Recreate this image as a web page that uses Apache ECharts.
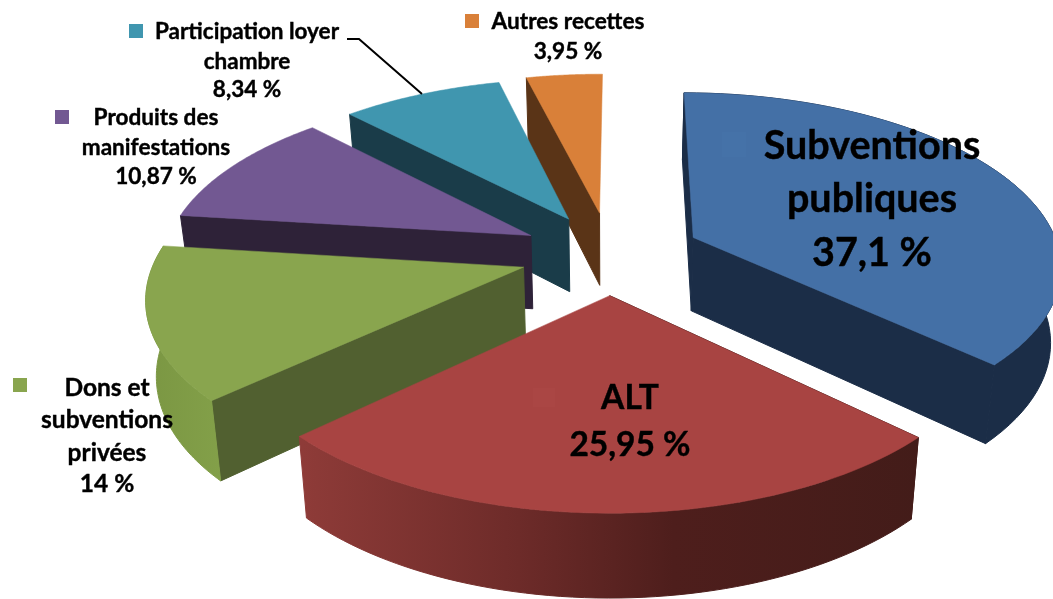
<!DOCTYPE html>
<html>
<head>
<meta charset="utf-8">
<title>Recettes</title>
<script src="https://cdn.jsdelivr.net/npm/echarts@6/dist/echarts.min.js"></script>
<style>
html, body { margin: 0; padding: 0; background: #fff; }
#main { width: 1053px; height: 599px; }
</style>
</head>
<body>
<div id="main"></div>
<script>
// parts du budget, dans l'ordre du camembert (sens horaire depuis le haut)
var names = ['Subventions\npubliques', 'ALT', 'Dons et\nsubventions\nprivées', 'Produits des\nmanifestations', 'Participation loyer\nchambre', 'Autres recettes'];
var values = [37.1, 25.95, 14, 10.87, 8.34, 3.95];

var topColors = ['#4470a6', '#a84442', '#89a54e', '#725892', '#4096af', '#d98039'];
var wallColors = ['#1b2d47', '#451c1a', '#516030', '#2e2238', '#1a3c49', '#5a3417'];
var keyColors = ['#4572a8', '#aa4644', '#89a54e', '#725892', '#4096af', '#d98039'];

// projection du disque
var view = { x0: 610, y0: 254, r: 367, a: 171, p: 0.15, q: 0.023, depth: 74, startAngle: 0.3 };
var explode = [0.25, 0.235, 0.245, 0.245, 0.24, 0.25];

// position des textes : centre x, y de chaque ligne, taille, carre de legende
var labelLayout = [
    { x: 872, ys: [146, 199, 253], size: 39.5, key: [722, 132, 24, 25] },
    { x: 630, ys: [398, 445], size: 33.5, key: [533, 388, 22, 19] },
    { x: 107, ys: [388, 420, 453, 484], size: 24.5, key: [13, 378, 14, 14] },
    { x: 156, ys: [118, 148, 177], size: 22.6, key: [55, 110, 14, 14] },
    { x: 247, ys: [32, 62, 90], size: 22.5, key: [129, 24, 14, 14] },
    { x: 568, ys: [22, 52], size: 22.6, key: [465, 14, 14, 14] }
];
var leader = [[347, 39], [359, 39], [422, 94]];

var total = values.reduce(function (s, v) { return s + v; }, 0);
var slices = [];
var acc = 0;
var rot = view.startAngle * Math.PI / 180;
values.forEach(function (v) {
    var start = acc / total * Math.PI * 2 + rot;
    acc += v;
    slices.push({ start: start, end: acc / total * Math.PI * 2 + rot });
});

function project(u, v, z) {
    var s = 1 / (1 - view.p * v);
    var k = 1 - view.q * z;
    return [view.x0 + view.r * u * s * k, view.y0 + view.a * v * s * k + view.depth * s * z];
}

function renderSlice(params) {
    // dessin de l'arriere vers l'avant
    var i = values.length - 1 - params.dataIndex;
    var sl = slices[i];
    var mid = (sl.start + sl.end) / 2;
    var ox = Math.sin(mid) * explode[i];
    var oy = -Math.cos(mid) * explode[i];
    var steps = 60;
    var rimTop = [], rimBottom = [];
    for (var n = 0; n <= steps; n++) {
        var t = sl.start + (sl.end - sl.start) * n / steps;
        var u = ox + Math.sin(t), v = oy - Math.cos(t);
        rimTop.push(project(u, v, 0));
        rimBottom.push(project(u, v, 1));
    }
    var apexTop = project(ox, oy, 0);
    var apexBottom = project(ox, oy, 1);

    var wallFill = wallColors[i];
    if (i === 1) {
        wallFill = new echarts.graphic.LinearGradient(303, 0, 920, 0, [
            { offset: 0, color: '#8e3b38' },
            { offset: 0.35, color: '#6d2b29' },
            { offset: 0.6, color: '#4e1e1c' },
            { offset: 1, color: '#431c19' }
        ], true);
    } else if (i === 2) {
        wallFill = new echarts.graphic.LinearGradient(150, 0, 222, 0, [
            { offset: 0, color: '#7b9743' },
            { offset: 1, color: '#83a049' }
        ], true);
    }
    function poly(points, fill, width) {
        return { type: 'polygon', shape: { points: points }, style: { fill: fill, stroke: fill, lineWidth: width } };
    }
    var parts = [poly([apexTop, rimTop[0], rimBottom[0], apexBottom], wallColors[i], 1)];
    if (mid < Math.PI) {
        parts.push(poly([apexTop, rimTop[steps], rimBottom[steps], apexBottom], wallColors[i], 1));
    }
    // le bord exterieur ne se voit que sur les parts de devant
    if (Math.cos(sl.start) < 0 || Math.cos(sl.end) < 0) {
        parts.push(poly(rimTop.concat(rimBottom.slice().reverse()), wallFill, 1));
    }
    parts.push(poly([apexTop].concat(rimTop), topColors[i], 0.5));
    return { type: 'group', children: parts };
}

var graphics = [];
names.forEach(function (name, i) {
    var lay = labelLayout[i];
    var lines = name.split('\n').concat(String(values[i]).replace('.', ',') + ' %');
    graphics.push({
        type: 'rect', z: 10,
        shape: { x: lay.key[0], y: lay.key[1], width: lay.key[2], height: lay.key[3] },
        style: { fill: keyColors[i] }
    });
    lines.forEach(function (line, j) {
        graphics.push({
            type: 'text', z: 11, x: lay.x, y: lay.ys[j],
            style: {
                text: line,
                fill: '#000',
                stroke: '#000',
                lineWidth: 0.4,
                font: 'bold ' + lay.size + 'px Lato, sans-serif',
                align: 'center',
                verticalAlign: 'middle'
            }
        });
    });
});
graphics.push({
    type: 'polyline', z: 11,
    shape: { points: leader },
    style: { fill: null, stroke: '#000', lineWidth: 2 }
});

var chart = echarts.init(document.getElementById('main'));
chart.setOption({
    animation: false,
    backgroundColor: '#fff',
    series: [{
        type: 'custom',
        coordinateSystem: 'none',
        clip: false,
        renderItem: renderSlice,
        data: values.slice().reverse()
    }],
    graphic: { elements: graphics }
});
</script>
</body>
</html>
